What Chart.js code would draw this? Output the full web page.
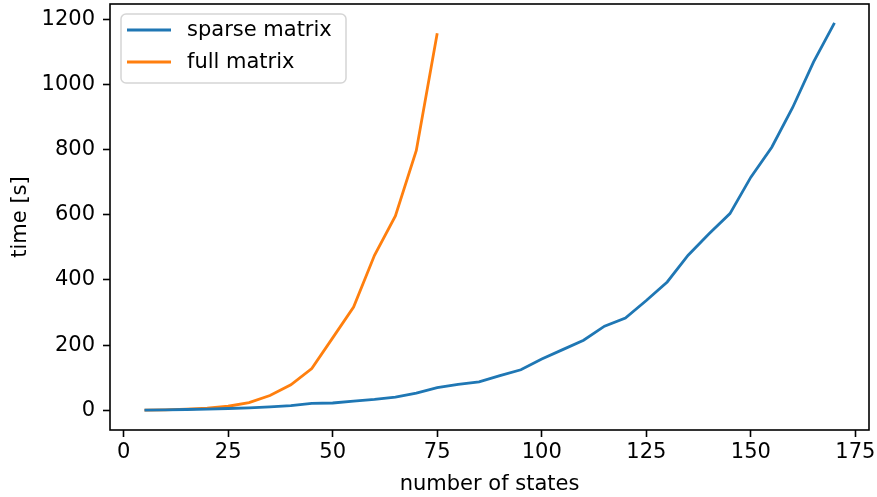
<!DOCTYPE html>
<html lang="en">
<head>
  <meta charset="UTF-8" />
  <title>Solver timing</title>
  <style>
    body {
      margin: 0;
      background: #fff;
    }
    #wrap {
      width: 877px;
      height: 497px;
    }
  </style>
  <script src="https://cdn.jsdelivr.net/npm/chart.js"></script>
</head>
<body>
  <div id="wrap"><canvas id="timingChart"></canvas></div>
  <script>
    // number of states tested for each solver
    const sparseStates = [5, 10, 15, 20, 25, 30, 35, 40, 45, 50, 55, 60, 65, 70, 75, 80, 85,
                          90, 95, 100, 105, 110, 115, 120, 125, 130, 135, 140, 145, 150, 155, 160, 165, 170];
    const fullStates = [5, 10, 15, 20, 25, 30, 35, 40, 45, 50, 55, 60, 65, 70, 75];

    // run time in seconds
    const sparseTimes = [0, 1, 2, 3, 5, 7, 10, 14, 21, 22, 28, 33, 40, 52, 69, 79, 87,
                         106, 124, 157, 186, 215, 258, 283, 337, 394, 476, 542, 604, 716, 808, 930, 1070, 1190];
    const fullTimes = [0, 1, 3, 6, 12, 23, 45, 78, 128, 222, 317, 476, 597, 798, 1158];

    const xTicks = [0, 25, 50, 75, 100, 125, 150, 175];
    const yTicks = [0, 200, 400, 600, 800, 1000, 1200];

    const FONT = "'DejaVu Sans', sans-serif";
    const FONT_SIZE = 21;

    function toPoints(xs, ys) {
      return xs.map((x, i) => ({ x: x, y: ys[i] }));
    }

    // matplotlib-style box around the axes
    const frame = {
      id: 'frame',
      afterDraw(chart) {
        const a = chart.chartArea;
        const ctx = chart.ctx;
        ctx.save();
        ctx.strokeStyle = '#000';
        ctx.lineWidth = 1.6;
        ctx.strokeRect(a.left, a.top, a.right - a.left, a.bottom - a.top);
        ctx.restore();
      }
    };

    // legend box in the upper left corner of the axes
    const boxLegend = {
      id: 'boxLegend',
      afterDraw(chart) {
        const a = chart.chartArea;
        const ctx = chart.ctx;
        const x0 = a.left + 11, y0 = a.top + 10, w = 225, h = 69;
        ctx.save();
        ctx.beginPath();
        ctx.roundRect(x0, y0, w, h, 5);
        ctx.fillStyle = 'rgba(255,255,255,0.8)';
        ctx.fill();
        ctx.strokeStyle = '#d5d5d5';
        ctx.lineWidth = 1.5;
        ctx.stroke();
        ctx.font = FONT_SIZE + 'px ' + FONT;
        ctx.textBaseline = 'middle';
        chart.data.datasets.forEach((ds, i) => {
          const y = y0 + 16 + i * 32;
          ctx.beginPath();
          ctx.moveTo(x0 + 6, y);
          ctx.lineTo(x0 + 50, y);
          ctx.strokeStyle = ds.borderColor;
          ctx.lineWidth = ds.borderWidth;
          ctx.stroke();
          ctx.fillStyle = '#000';
          ctx.fillText(ds.label, x0 + 66, y + 1);
        });
        ctx.restore();
      }
    };

    // keep tick labels from shrinking the plot area
    function noEdgePadding(s) {
      s.paddingTop = 0;
      s.paddingBottom = 0;
      s.paddingLeft = 0;
      s.paddingRight = 0;
    }

    const ctx = document.getElementById('timingChart').getContext('2d');
    new Chart(ctx, {
      type: 'line',
      data: {
        datasets: [
          {
            label: 'sparse matrix',
            data: toPoints(sparseStates, sparseTimes),
            borderColor: '#1f77b4',
            borderWidth: 2.8,
            pointRadius: 0,
            tension: 0
          },
          {
            label: 'full matrix',
            data: toPoints(fullStates, fullTimes),
            borderColor: '#ff7f0e',
            borderWidth: 2.8,
            pointRadius: 0,
            tension: 0
          }
        ]
      },
      options: {
        responsive: true,
        maintainAspectRatio: false,
        animation: false,
        layout: { padding: { top: 4, right: 8, left: 0, bottom: 0 } },
        plugins: {
          legend: { display: false },
          tooltip: { enabled: false }
        },
        scales: {
          x: {
            type: 'linear',
            min: -3.25,
            max: 178.25,
            afterBuildTicks: s => { s.ticks = xTicks.map(v => ({ value: v })); },
            afterFit: s => { s.height = 67; noEdgePadding(s); },
            grid: { drawOnChartArea: false, tickLength: 7, tickColor: '#000', tickWidth: 1.6 },
            border: { display: false },
            ticks: {
              color: '#000',
              font: { family: FONT, size: FONT_SIZE },
              padding: 3,
              maxRotation: 0,
              callback: v => String(v)
            },
            title: {
              display: true,
              text: 'number of states',
              color: '#000',
              font: { family: FONT, size: FONT_SIZE },
              padding: { top: 0, bottom: 0 }
            }
          },
          y: {
            type: 'linear',
            min: -61,
            max: 1248,
            afterBuildTicks: s => { s.ticks = yTicks.map(v => ({ value: v })); },
            afterFit: s => { s.width = 110; noEdgePadding(s); },
            grid: { drawOnChartArea: false, tickLength: 7, tickColor: '#000', tickWidth: 1.6 },
            border: { display: false },
            ticks: {
              color: '#000',
              font: { family: FONT, size: FONT_SIZE },
              padding: 8,
              callback: v => String(v)
            },
            title: {
              display: true,
              text: 'time [s]',
              color: '#000',
              font: { family: FONT, size: FONT_SIZE },
              padding: { top: 8, bottom: 0 }
            }
          }
        }
      },
      plugins: [frame, boxLegend]
    });
  </script>
</body>
</html>
